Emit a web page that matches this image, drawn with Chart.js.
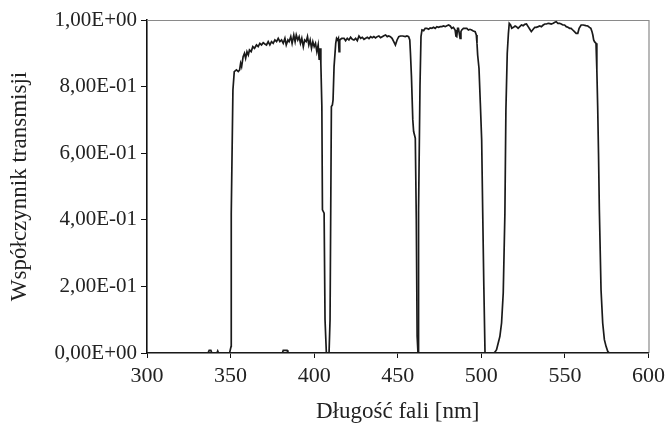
<!DOCTYPE html>
<html>
<head>
<meta charset="utf-8">
<script src="https://cdn.jsdelivr.net/npm/chart.js@4/dist/chart.umd.min.js"></script>
<style>
html,body{margin:0;padding:0;background:#fff;}
#wrap{width:670px;height:426px;}
</style>
</head>
<body>
<div id="wrap"><canvas id="c" width="670" height="426"></canvas></div>
<script>
// ---- data (wavelength in nm, transmission coefficient) ----
const xTickLabels = ['300','350','400','450','500','550','600'];
const yTickLabels = ['0,00E+00','2,00E-01','4,00E-01','6,00E-01','8,00E-01','1,00E+00'];

const f1Wavelength = [300,336.5,337.2,338.2,338.8,341.8,342.3,342.8,349.4,350.3,350.4,351.4,352.2,353.5,354.6,355.4,356.0,356.6,357.5,358.3,359.0,359.8,360.6,361.3,362.3,363.3,364.3,365.5,366.5,367.5,368.5,369.5,370.5,371.5,372.5,373.5,374.5,375.5,376.5,377.5,378.5,379.5,380.5,381.5,382.5,383.3,384.3,385.0,386.0,386.8,387.8,388.6,389.3,390.2,391.0,391.8,392.6,393.5,394.3,395.2,396.0,396.8,397.6,398.4,399.2,400.0,400.8,401.6,402.4,403.0,403.5,404.0,404.6,404.95,405.95,406.5,407.3,600];
const f1Transmission = [0,0,0.008,0.008,0,0,0.006,0,0,0.02,0.42,0.79,0.845,0.85,0.845,0.85,0.87,0.86,0.89,0.90,0.885,0.905,0.895,0.91,0.905,0.92,0.915,0.925,0.92,0.93,0.925,0.932,0.928,0.925,0.935,0.925,0.935,0.93,0.94,0.935,0.945,0.935,0.94,0.93,0.945,0.925,0.94,0.935,0.95,0.93,0.955,0.935,0.955,0.94,0.95,0.93,0.945,0.92,0.94,0.935,0.95,0.925,0.94,0.915,0.935,0.92,0.93,0.905,0.925,0.88,0.915,0.87,0.74,0.43,0.42,0.10,0,0];

const f2Wavelength = [300,381.0,381.5,383.8,384.3,408.9,409.5,410.3,410.9,411.3,411.9,412.9,413.4,414.0,414.5,414.9,415.3,416.5,417.9,418.8,419.8,420.8,421.8,422.8,423.8,424.8,425.8,426.8,427.8,428.8,429.8,430.8,431.8,432.8,433.8,434.7,435.7,436.7,437.7,438.7,439.7,440.7,441.7,442.7,443.7,444.6,445.6,446.6,447.6,448.6,449.6,450.6,451.6,453.0,454.5,455.5,456.5,457.2,457.6,458.2,459.0,459.5,460.5,461.1,461.6,462.1,600];
const f2Transmission = [0,0,0.008,0.008,0,0,0.10,0.74,0.745,0.76,0.86,0.93,0.945,0.94,0.945,0.905,0.94,0.945,0.945,0.938,0.945,0.94,0.948,0.942,0.94,0.945,0.938,0.952,0.945,0.948,0.942,0.945,0.948,0.944,0.95,0.947,0.95,0.946,0.95,0.952,0.947,0.95,0.953,0.955,0.95,0.952,0.95,0.945,0.935,0.925,0.94,0.95,0.952,0.952,0.95,0.952,0.95,0.94,0.90,0.83,0.70,0.665,0.645,0.40,0.05,0,0];

const f3Wavelength = [300,462.2,462.4,462.5,463.3,463.9,464.5,465.5,466.4,467.4,468.4,469.4,470.4,471.4,472.4,473.4,474.4,475.4,476.4,477.4,478.4,479.4,480.4,481.4,482.3,483.3,484.3,484.8,485.3,485.8,486.3,486.8,487.3,487.8,488.3,489.3,490.3,491.3,492.3,493.2,494.2,495.2,496.3,497.0,497.4,497.8,498.6,499.4,500.2,500.8,501.5,502.2,600];
const f3Transmission = [0,0,0.10,0.43,0.80,0.95,0.97,0.968,0.975,0.975,0.972,0.976,0.975,0.978,0.975,0.98,0.978,0.98,0.98,0.982,0.98,0.983,0.985,0.982,0.975,0.978,0.97,0.952,0.95,0.975,0.975,0.96,0.945,0.965,0.97,0.975,0.975,0.975,0.97,0.972,0.97,0.967,0.965,0.955,0.93,0.895,0.855,0.75,0.64,0.43,0.20,0,0];

const f4Wavelength = [300,507.5,508.5,509.1,510.1,511.1,512.1,513.1,514.1,514.7,515.5,516.2,516.7,517.5,518.2,519.2,520.2,521.0,522.0,523.0,524.0,525.0,526.0,527.0,528.0,529.0,529.9,531.0,532.0,532.9,534.0,535.0,535.9,537.0,538.0,539.0,540.0,541.0,541.8,543.0,544.0,544.8,545.8,546.8,547.8,548.8,549.8,550.8,551.8,552.8,553.7,554.7,555.7,556.7,557.7,558.5,559.7,561.0,562.5,563.7,564.7,565.5,566.2,566.7,567.2,567.7,568.6,569.1,569.6,570.1,570.6,571.6,572.6,573.6,574.6,575.6,576.6,600];
const f4Transmission = [0,0,0.005,0.01,0.03,0.05,0.09,0.18,0.42,0.73,0.90,0.96,0.99,0.985,0.975,0.978,0.982,0.98,0.975,0.98,0.985,0.983,0.987,0.988,0.98,0.972,0.965,0.972,0.978,0.978,0.98,0.982,0.98,0.985,0.988,0.988,0.99,0.989,0.988,0.99,0.993,0.995,0.99,0.99,0.988,0.985,0.985,0.98,0.978,0.975,0.975,0.97,0.965,0.96,0.96,0.975,0.985,0.985,0.983,0.982,0.978,0.975,0.965,0.955,0.94,0.935,0.93,0.85,0.74,0.60,0.43,0.19,0.09,0.04,0.02,0.005,0,0];

function pts(xs, ys){ return xs.map((x,i)=>({x:x, y:ys[i]})); }

const lineStyle = {borderColor:'#1a1a1a', borderWidth:1.7, pointRadius:0, showLine:true, tension:0, fill:false};

const frame = {
  id:'frame',
  beforeDatasetsDraw(chart){
    const {ctx, chartArea:a} = chart;
    ctx.save();
    ctx.strokeStyle = '#8a8a8a';
    ctx.lineWidth = 1.2;
    ctx.beginPath();
    ctx.moveTo(a.left, a.top + 0.5);
    ctx.lineTo(a.right + 0.5, a.top + 0.5);
    ctx.lineTo(a.right + 0.5, a.bottom);
    ctx.stroke();
    ctx.restore();
  }
};

const serif = "'Liberation Serif', 'DejaVu Serif', serif";

new Chart(document.getElementById('c'), {
  type:'scatter',
  data:{ datasets:[
    Object.assign({label:'F1', data:pts(f1Wavelength,f1Transmission)}, lineStyle),
    Object.assign({label:'F2', data:pts(f2Wavelength,f2Transmission)}, lineStyle),
    Object.assign({label:'F3', data:pts(f3Wavelength,f3Transmission)}, lineStyle),
    Object.assign({label:'F4', data:pts(f4Wavelength,f4Transmission)}, lineStyle)
  ]},
  options:{
    responsive:false,
    animation:false,
    events:[],
    layout:{padding:{top:20,right:19,left:0,bottom:0}},
    plugins:{legend:{display:false}, tooltip:{enabled:false}},
    scales:{
      x:{
        type:'linear', min:300, max:600,
        afterFit(s){ s.height = 73; },
        border:{display:true, color:'#111', width:1.6},
        grid:{drawOnChartArea:false, drawTicks:true, tickLength:5, color:'#111', lineWidth:1},
        ticks:{stepSize:50, padding:5, color:'#222', font:{family:serif, size:22},
          callback:(v)=>{ const i = xTickLabels.indexOf(String(v)); return i>=0 ? xTickLabels[i] : ''; }},
        title:{display:true, text:'Długość fali [nm]', color:'#222', font:{family:serif, size:23}, padding:{top:0,bottom:0}}
      },
      y:{
        type:'linear', min:0, max:1,
        afterFit(s){ s.width = 147; },
        border:{display:true, color:'#111', width:1.6},
        grid:{drawOnChartArea:false, drawTicks:true, tickLength:6, color:'#111', lineWidth:1},
        ticks:{stepSize:0.2, padding:4, color:'#222', font:{family:serif, size:21},
          callback:(v, i)=> yTickLabels[i]},
        title:{display:true, text:'Współczynnik transmisji', color:'#222', font:{family:serif, size:23}, padding:{top:6,bottom:0}}
      }
    }
  },
  plugins:[frame]
});
</script>
</body>
</html>
